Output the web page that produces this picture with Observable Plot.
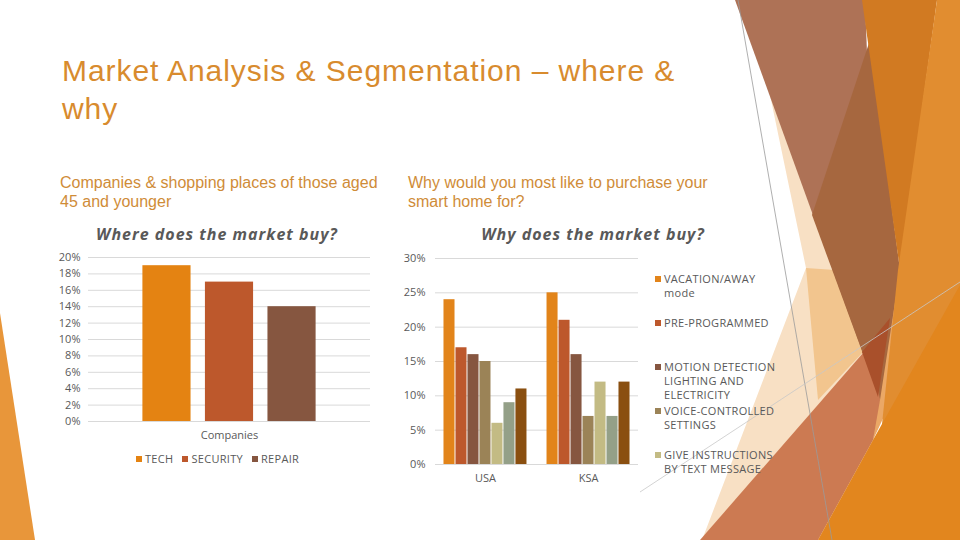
<!DOCTYPE html>
<html>
<head>
<meta charset="utf-8">
<script src="https://cdn.jsdelivr.net/npm/d3@7"></script>
<script src="https://cdn.jsdelivr.net/npm/@observablehq/plot@0.6"></script>
<style>
  html, body { margin: 0; padding: 0; }
  body { width: 960px; height: 540px; position: relative; overflow: hidden; background: #fff; font-family: "Open Sans", sans-serif; }
  .abs { position: absolute; }
  #title { left: 62px; top: 52px; font-family: "Liberation Sans", Arial, sans-serif; font-size: 30px; letter-spacing: 0.95px; line-height: 38px; color: #D88B2E; width: 640px; }
  .sub { top: 173px; font-family: "Liberation Sans", Arial, sans-serif; font-size: 16px; line-height: 19px; color: #CF8C38; width: 325px; }
  .ctitle { top: 224px; width: 320px; text-align: center; font-family: "Open Sans", sans-serif; font-weight: 700; font-style: italic; font-size: 16px; letter-spacing: 1px; line-height: 20px; color: #595959; }
  .legend { font-size: 11px; color: #595959; letter-spacing: 0.3px; line-height: 14px; }
  .litem { display: flex; align-items: flex-start; }
  .sw { width: 6px; height: 6px; margin-top: 4px; margin-right: 3px; flex: none; }
</style>
</head>
<body>
<svg class="abs" id="bg" width="960" height="540" style="left:0;top:0">
  <polygon points="0,313 35,540 0,540" fill="#E8963A"/>
  <polygon points="770,95 806,268 702,540 870,540 880,300 830,250" fill="#F8E0C4"/>
  <polygon points="806,268 835,270 865,350 818,400" fill="#F2C58E"/>
  <polygon points="880,300 918,290 915,350 873,440" fill="#EBA866"/>
  <polygon points="735,0 865,0 880,400" fill="#AE7256"/>
  <polygon points="870,40 900,270 880,400 812,215" fill="#A6673F"/>
  <polygon points="862,0 937,0 900,270" fill="#D17A22"/>
  <polygon points="937,0 960,0 960,540 870,540 898,270" fill="#E18D30"/>
  <polygon points="700,540 870,345 880,400 873,440 818,540" fill="#CC7A52"/>
  <polygon points="862,352 890,318 878,397" fill="#A9502B"/>
  <polygon points="818,540 873,440 960,285 960,540" fill="#E2861E"/>
  <line x1="738" y1="0" x2="832" y2="540" stroke="#9A9A9A" stroke-width="0.8"/>
  <line x1="640" y1="492" x2="960" y2="282" stroke="#C8C8C8" stroke-width="0.8"/>
</svg>

<div class="abs" id="title">Market Analysis &amp; Segmentation – where &amp; why</div>
<div class="abs sub" style="left:60px">Companies &amp; shopping places of those aged 45 and younger</div>
<div class="abs sub" style="left:408px">Why would you most like to purchase your smart home for?</div>

<div class="abs ctitle" style="left:57px">Where does the market buy?</div>
<div class="abs ctitle" style="left:433px">Why does the market buy?</div>

<div class="abs" id="left" style="left:40px;top:240px"></div>
<div class="abs legend" id="leftLegend" style="left:136px;top:452px;display:flex;gap:9px"></div>
<div class="abs" id="rightGrid" style="left:390px;top:240px"></div>
<div class="abs" id="right" style="left:390px;top:240px"></div>
<div class="abs legend" id="rightLegend" style="left:655px;top:272px;width:125px"></div>

<script>
// ---- Data: left chart ----
const companyCategories = ["TECH", "SECURITY", "REPAIR"];
const companyValues = [0.19, 0.17, 0.14];
const companyColors = ["#E48312", "#BD582C", "#865640"];
const leftTicks = [0, 0.02, 0.04, 0.06, 0.08, 0.10, 0.12, 0.14, 0.16, 0.18, 0.20];
const groupLabel = "Companies";

// ---- Data: right chart ----
const countries = ["USA", "KSA"];
const reasons = [
  "VACATION/AWAY mode",
  "PRE-PROGRAMMED",
  "MOTION DETECTION LIGHTING AND ELECTRICITY",
  "VOICE-CONTROLLED SETTINGS",
  "GIVE INSTRUCTIONS BY TEXT MESSAGE",
  "SERIES 6",
  "SERIES 7"
];
const legendShown = 5;
const usaValues = [0.24, 0.17, 0.16, 0.15, 0.06, 0.09, 0.11];
const ksaValues = [0.25, 0.21, 0.16, 0.07, 0.12, 0.07, 0.12];
const reasonColors = ["#E2841A", "#BD582C", "#865640", "#9B8357", "#C3BB84", "#94A088", "#8A4F10"];
const rightTicks = [0, 0.05, 0.10, 0.15, 0.20, 0.25, 0.30];

const pct = d3.format(".0%");
const axisStyle = {fontFamily: "'Open Sans', sans-serif", fontSize: "11px", color: "#595959", background: "transparent", overflow: "visible"};

// ---- Left chart ----
const leftData = companyCategories.map((c, i) => ({cat: c, value: companyValues[i]}));
const leftPlot = Plot.plot({
  width: 340, height: 200,
  marginTop: 17, marginBottom: 19, marginLeft: 48, marginRight: 10,
  style: axisStyle,
  x: {domain: companyCategories, paddingInner: 0.23, paddingOuter: 0.87, round: false, axis: null},
  y: {domain: [0, 0.2]},
  color: {domain: companyCategories, range: companyColors},
  marks: [
    Plot.ruleY(leftTicks, {stroke: "#D9D9D9", strokeWidth: 1}),
    Plot.axisY({ticks: leftTicks, tickSize: 0, tickPadding: 8, tickFormat: pct, label: null}),
    Plot.barY(leftData, {x: "cat", y: "value", fill: "cat"}),
    Plot.text([groupLabel], {frameAnchor: "bottom", dy: 17, text: d => d, fill: "#595959", fontSize: 11})
  ]
});
document.getElementById("left").appendChild(leftPlot);

const ll = d3.select("#leftLegend");
companyCategories.forEach((c, i) => {
  const it = ll.append("div").attr("class", "litem");
  it.append("div").attr("class", "sw").style("background", companyColors[i]);
  it.append("div").text(c);
});

// ---- Right chart ----
const rightDims = {width: 260, height: 254, marginTop: 18, marginBottom: 30, marginLeft: 45, marginRight: 12};
// grid + y axis (continuous across both groups)
const rightGrid = Plot.plot({
  ...rightDims,
  style: axisStyle,
  y: {domain: [0, 0.3]},
  marks: [
    Plot.ruleY(rightTicks, {stroke: "#D9D9D9", strokeWidth: 1}),
    Plot.axisY({ticks: rightTicks, tickSize: 0, tickPadding: 10, tickFormat: pct, label: null})
  ]
});
document.getElementById("rightGrid").appendChild(rightGrid);

const rightData = [];
countries.forEach((c, ci) => {
  const vals = ci === 0 ? usaValues : ksaValues;
  reasons.forEach((r, ri) => rightData.push({country: c, reason: r, value: vals[ri]}));
});
const rightPlot = Plot.plot({
  ...rightDims,
  style: axisStyle,
  fx: {domain: countries, paddingInner: 0.19, paddingOuter: 0.08, round: false, label: null},
  x: {domain: reasons, paddingInner: 0.08, paddingOuter: 0.02, round: false, axis: null},
  y: {domain: [0, 0.3], axis: null},
  color: {domain: reasons, range: reasonColors},
  marks: [
    Plot.axisFx({anchor: "bottom", tickSize: 0, tickPadding: 10, label: null}),
    Plot.barY(rightData, {fx: "country", x: "reason", y: "value", fill: "reason"})
  ]
});
document.getElementById("right").appendChild(rightPlot);

const rl = d3.select("#rightLegend");
reasons.slice(0, legendShown).forEach((r, i) => {
  const it = rl.append("div").attr("class", "litem").style("height", "44px");
  it.append("div").attr("class", "sw").style("background", reasonColors[i]);
  it.append("div").text(r);
});
</script>
</body>
</html>
